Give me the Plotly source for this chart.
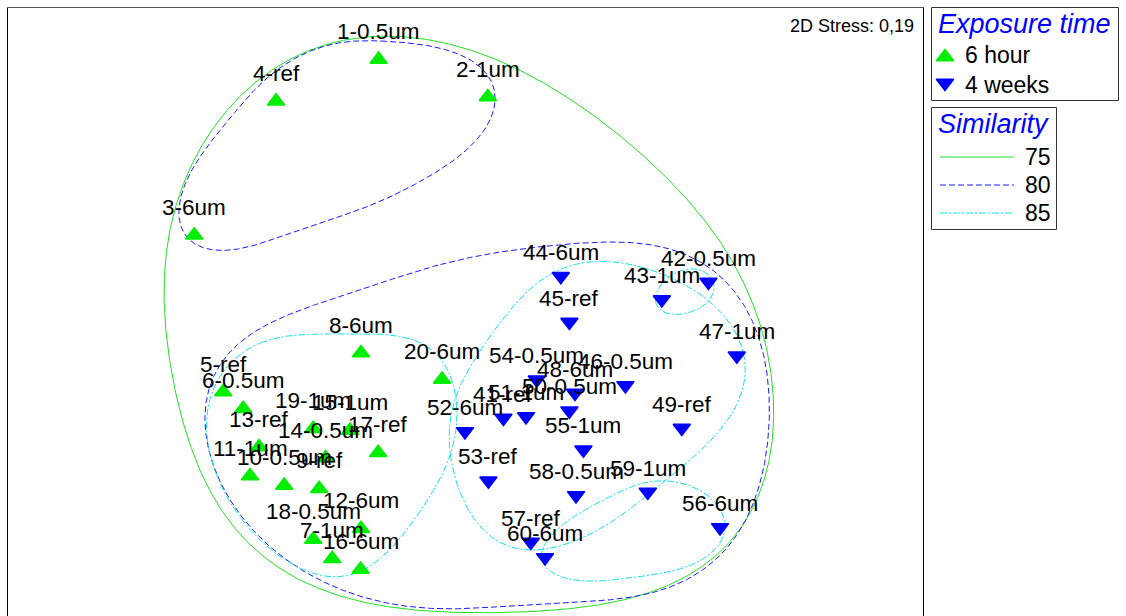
import numpy as np
import plotly.graph_objects as go

FONT = "Liberation Sans, Arial, sans-serif"

# ---- nMDS ordination (2D) ----
hour6_labels = ["1-0.5um", "2-1um", "3-6um", "4-ref", "5-ref", "6-0.5um", "7-1um",
                "8-6um", "9-ref", "10-0.5um", "11-1um", "12-6um", "13-ref", "14-0.5um",
                "15-1um", "16-6um", "17-ref", "18-0.5um", "19-1um", "20-6um"]
hour6_x = [-0.432, 0.114, -1.354, -0.945, -1.209, -1.109, -0.664, -0.520, -0.729, -0.904,
           -1.075, -0.520, -1.030, -0.697, -0.575, -0.522, -0.434, -0.759, -0.759, -0.115]
hour6_y = [1.262, 1.075, 0.384, 1.054, -0.400, -0.484, -1.234, -0.205, -0.884, -0.867,
           -0.820, -1.084, -0.675, -0.730, -0.592, -1.287, -0.704, -1.137, -0.584, -0.337]

week4_labels = ["41-ref", "42-0.5um", "43-1um", "44-6um", "45-ref", "46-0.5um", "47-1um",
                "48-6um", "49-ref", "50-0.5um", "51-1um", "52-6um", "53-ref", "54-0.5um",
                "55-1um", "56-6um", "57-ref", "58-0.5um", "59-1um", "60-6um"]
week4_x = [0.192, 1.217, 0.984, 0.479, 0.522, 0.802, 1.359, 0.550, 1.084, 0.522,
           0.305, 0.000, 0.117, 0.359, 0.592, 1.275, 0.329, 0.555, 0.914, 0.400]
week4_y = [-0.530, 0.150, 0.062, 0.179, -0.050, -0.367, -0.219, -0.405, -0.580, -0.494,
           -0.522, -0.597, -0.844, -0.339, -0.689, -1.077, -1.150, -0.917, -0.900, -1.227]

stress_text = "2D Stress: 0,19"

# ---- cluster similarity outlines (vertices in nMDS space) ----
sim75_outline = [(-0.41, 1.385), (-0.075, 1.335), (0.275, 1.21), (0.575, 1.025), (0.825, 0.845),
                 (0.99, 0.695), (1.16, 0.495), (1.275, 0.345), (1.375, 0.185), (1.45, 0.035),
                 (1.505, -0.165), (1.535, -0.39), (1.535, -0.59), (1.505, -0.79), (1.45, -0.965),
                 (1.35, -1.14), (1.21, -1.255), (1.04, -1.35), (0.875, -1.41), (0.675, -1.46),
                 (0.49, -1.49), (0.275, -1.505), (0.075, -1.505), (-0.125, -1.5), (-0.275, -1.485),
                 (-0.475, -1.455), (-0.66, -1.405), (-0.825, -1.34), (-1.05, -1.19), (-1.16, -1.075),
                 (-1.25, -0.94), (-1.325, -0.79), (-1.41, -0.54), (-1.465, -0.29), (-1.5, -0.04),
                 (-1.51, 0.11), (-1.5, 0.27), (-1.445, 0.51), (-1.36, 0.745), (-1.245, 0.945),
                 (-1.075, 1.125), (-0.875, 1.26), (-0.64, 1.35)]

sim80_top = [(-0.41, 1.36), (-0.075, 1.295), (0.125, 1.175), (0.16, 1.06), (0.09, 0.91),
             (-0.075, 0.745), (-0.41, 0.56), (-0.825, 0.41), (-1.16, 0.32), (-1.36, 0.325),
             (-1.425, 0.445), (-1.375, 0.675), (-1.24, 0.895), (-1.04, 1.125), (-0.825, 1.275),
             (-0.64, 1.345)]

sim80_main = [(-0.125, 0.245), (0.29, 0.31), (0.71, 0.35), (0.96, 0.335), (1.21, 0.225),
              (1.375, 0.075), (1.475, -0.155), (1.515, -0.425), (1.515, -0.64), (1.475, -0.875),
              (1.375, -1.09), (1.21, -1.275), (0.96, -1.39), (0.54, -1.455), (0.175, -1.475),
              (-0.125, -1.48), (-0.24, -1.475), (-0.575, -1.405), (-0.825, -1.29), (-1.075, -1.075),
              (-1.24, -0.79), (-1.3, -0.54), (-1.275, -0.375), (-1.225, -0.265), (-1.16, -0.155),
              (-0.91, -0.04), (-0.575, 0.095), (-0.325, 0.175)]

sim85_hour = [(-1.025, -0.15), (-0.875, -0.12), (-0.64, -0.11), (-0.41, -0.115), (-0.24, -0.14),
              (-0.125, -0.225), (-0.065, -0.34), (-0.05, -0.455), (-0.05, -0.59), (-0.065, -0.705),
              (-0.125, -0.84), (-0.21, -0.975), (-0.325, -1.125), (-0.44, -1.24), (-0.575, -1.325),
              (-0.69, -1.325), (-0.86, -1.255), (-1.025, -1.14), (-1.16, -0.975), (-1.26, -0.775),
              (-1.29, -0.59), (-1.275, -0.44), (-1.225, -0.325), (-1.14, -0.225)]

sim85_week = [(0.61, 0.245), (0.79, 0.24), (1.04, 0.17), (1.26, 0.01), (1.375, -0.14),
              (1.41, -0.29), (1.36, -0.455), (1.26, -0.59), (1.04, -0.825), (0.79, -1.005),
              (0.54, -1.14), (0.34, -1.2), (0.125, -1.125), (0.01, -0.975), (-0.06, -0.755),
              (-0.07, -0.54), (-0.05, -0.415), (0.01, -0.29), (0.125, -0.125), (0.29, 0.06),
              (0.425, 0.21)]

sim85_pair = [(0.95, 0.06), (1.04, 0.185), (1.19, 0.2), (1.255, 0.135), (1.19, 0.035),
              (1.04, -0.005), (0.975, 0.0)]

sim85_tail = [(0.36, -1.225), (0.425, -1.155), (0.625, -0.975), (0.875, -0.855), (1.04, -0.85),
              (1.21, -0.925), (1.3, -1.04), (1.29, -1.14), (1.175, -1.24), (0.875, -1.325),
              (0.625, -1.34), (0.425, -1.305)]

GREEN = "#00ee00"
BLUE = "#0000ff"
LINE75 = dict(color="#22e022", width=1)
LINE80 = dict(color="#1a1aff", width=1, dash="6px,3px")
LINE85 = dict(color="#10e0ee", width=1, dash="7px,2px,2px,2px")
LABEL_SIZE = 22.5


def smooth_loop(pts, k, n=720):
    """Closed smooth curve through outline vertices (low-order Fourier fit)."""
    p = np.asarray(pts, float)
    closed = np.vstack([p, p[:1]])
    seg = np.hypot(*np.diff(closed, axis=0).T)
    t = np.r_[0.0, np.cumsum(seg)[:-1]] / seg.sum()

    def basis(tt):
        cols = [np.ones_like(tt)]
        for j in range(1, k + 1):
            cols += [np.cos(2 * np.pi * j * tt), np.sin(2 * np.pi * j * tt)]
        return np.column_stack(cols)

    coef, *_ = np.linalg.lstsq(basis(t), p, rcond=None)
    tt = np.linspace(0.0, 1.0, n + 1)
    return basis(tt) @ coef


fig = go.Figure()

outlines = [
    (sim75_outline, 6, LINE75),
    (sim80_top, 5, LINE80),
    (sim80_main, 6, LINE80),
    (sim85_hour, 5, LINE85),
    (sim85_week, 5, LINE85),
    (sim85_pair, 2, LINE85),
    (sim85_tail, 3, LINE85),
]
for pts, k, style in outlines:
    c = smooth_loop(pts, k)
    fig.add_trace(go.Scatter(x=c[:, 0], y=c[:, 1], mode="lines", line=style,
                             hoverinfo="skip", showlegend=False))

MSIZE = 15
MLINE = 1.5
fig.add_trace(go.Scatter(x=hour6_x, y=hour6_y, mode="markers", name="6 hour",
                         text=hour6_labels, hoverinfo="text", showlegend=False,
                         marker=dict(symbol="triangle-up", size=MSIZE, color=GREEN,
                                     line=dict(color=GREEN, width=MLINE))))
fig.add_trace(go.Scatter(x=week4_x, y=week4_y, mode="markers", name="4 weeks",
                         text=week4_labels, hoverinfo="text", showlegend=False,
                         marker=dict(symbol="triangle-down", size=MSIZE, color=BLUE,
                                     line=dict(color=BLUE, width=MLINE))))

annotations = []
for lab, x, y in zip(hour6_labels, hour6_x, hour6_y):
    annotations.append(dict(x=x, y=y, xref="x", yref="y", text=lab, showarrow=False,
                            yshift=28, font=dict(family=FONT, size=LABEL_SIZE, color="black")))
for lab, x, y in zip(week4_labels, week4_x, week4_y):
    annotations.append(dict(x=x, y=y, xref="x", yref="y", text=lab, showarrow=False,
                            yshift=24, font=dict(family=FONT, size=LABEL_SIZE, color="black")))

# ---- key panels (drawn on a pixel-scaled overlay axis) ----
fig.add_trace(go.Scatter(x=[945], y=[57], xaxis="x2", yaxis="y2", mode="markers",
                         hoverinfo="skip", showlegend=False,
                         marker=dict(symbol="triangle-up", size=MSIZE, color=GREEN,
                                     line=dict(color=GREEN, width=MLINE))))
fig.add_trace(go.Scatter(x=[945], y=[83], xaxis="x2", yaxis="y2", mode="markers",
                         hoverinfo="skip", showlegend=False,
                         marker=dict(symbol="triangle-down", size=MSIZE, color=BLUE,
                                     line=dict(color=BLUE, width=MLINE))))
for yy, style in [(157, LINE75), (185, LINE80), (213, LINE85)]:
    fig.add_trace(go.Scatter(x=[940, 1014], y=[yy, yy], xaxis="x2", yaxis="y2",
                             mode="lines", line=style, hoverinfo="skip", showlegend=False))

key_items = [
    ("Exposure time", 936, 24, 27, BLUE, "italic", "left"),
    ("6 hour", 963, 55, 23, "black", "normal", "left"),
    ("4 weeks", 963, 85, 23, "black", "normal", "left"),
    ("Similarity", 936, 124, 27, BLUE, "italic", "left"),
    ("75", 1053, 157, 23, "black", "normal", "right"),
    ("80", 1053, 185, 23, "black", "normal", "right"),
    ("85", 1053, 213, 23, "black", "normal", "right"),
    (stress_text, 916, 26, 18, "black", "normal", "right"),
]
for txt, x, y, size, col, style, anchor in key_items:
    annotations.append(dict(x=x, y=y, xref="x2", yref="y2", text=txt, showarrow=False,
                            xanchor=anchor, yanchor="middle",
                            font=dict(family=FONT, size=size, color=col, style=style)))

W, H = 1126, 616
shapes = [
    # ordination frame (left, top, right)
    dict(type="line", xref="x2", yref="y2", x0=7.5, x1=7.5, y0=7.5, y1=620, line=dict(color="black", width=1)),
    dict(type="line", xref="x2", yref="y2", x0=7.5, x1=923.5, y0=7.5, y1=7.5, line=dict(color="#555555", width=1)),
    dict(type="line", xref="x2", yref="y2", x0=923.5, x1=923.5, y0=7.5, y1=620, line=dict(color="black", width=1)),
    # key boxes
    dict(type="rect", xref="x2", yref="y2", x0=931.5, x1=1118.5, y0=7.5, y1=100.5,
         line=dict(color="#333333", width=1)),
    dict(type="rect", xref="x2", yref="y2", x0=931.5, x1=1056.5, y0=107.5, y1=229.5,
         line=dict(color="#333333", width=1)),
]

fig.update_layout(
    width=W, height=H,
    margin=dict(l=0, r=0, t=0, b=0),
    paper_bgcolor="white",
    plot_bgcolor="rgba(0,0,0,0)",
    showlegend=False,
    annotations=annotations,
    shapes=shapes,
    xaxis=dict(domain=[7.5 / W, 923.5 / W], range=[-2.2875, 2.2925], visible=False,
               showgrid=False, zeroline=False, fixedrange=True),
    yaxis=dict(domain=[0, 608.5 / H], range=[-1.52, 1.5225], visible=False,
               showgrid=False, zeroline=False, fixedrange=True),
    xaxis2=dict(domain=[0, 1], range=[0, W], anchor="y2", visible=False, fixedrange=True),
    yaxis2=dict(domain=[0, 1], range=[H, 0], anchor="x2", visible=False, fixedrange=True),
)

fig.write_html("out.html")
